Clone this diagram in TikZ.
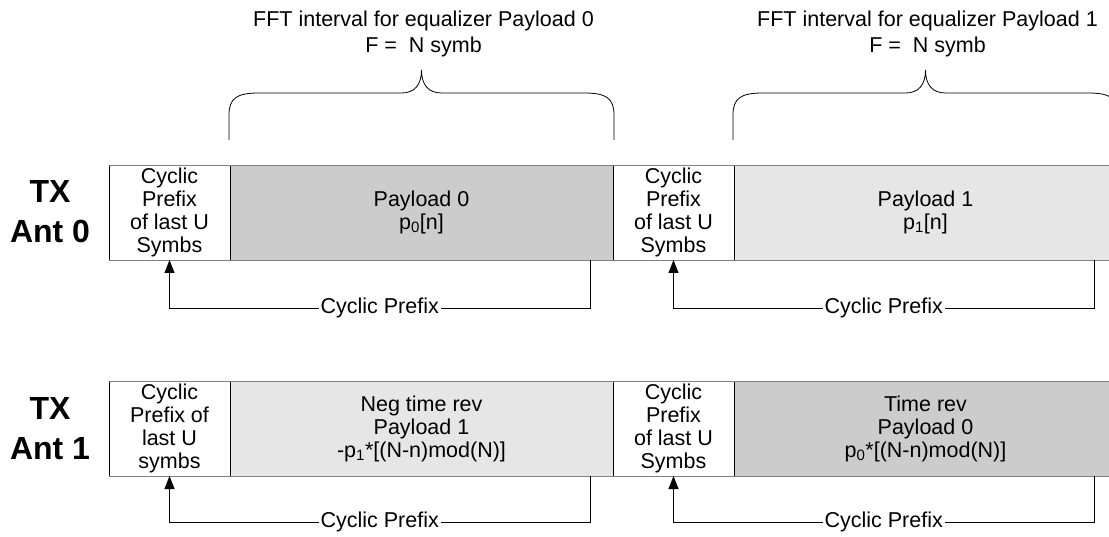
\documentclass[tikz,border=0pt]{standalone}
\usepackage{fontspec}
\setmainfont{Liberation Sans}
\usepackage{tikz}
\usetikzlibrary{arrows.meta,positioning}
\definecolor{plgray}{RGB}{204,204,204}
\definecolor{pllight}{RGB}{230,230,230}
\definecolor{edgegray}{RGB}{128,128,128}
\tikzstyle{blk} = [draw=black, line width=0.8pt, minimum height=95pt, inner sep=0pt, outer sep=0pt, align=center, font=\fontsize{21.5}{23}\selectfont]
\tikzstyle{cpbox} = [blk, fill=white, minimum width=121pt]
\tikzstyle{paybox} = [blk, minimum width=383pt]
\tikzstyle{cparrow} = [line width=0.8pt, -{Triangle[length=13pt,width=10pt]}]
\tikzstyle{cplabel} = [fill=white, inner sep=2pt, font=\fontsize{21.5}{23}\selectfont]

\begin{document}
\begin{tikzpicture}[x=1pt, y=-1pt]
\useasboundingbox (0,0) rectangle (1109,537);

% TX Ant 0
\node[cpbox, anchor=north west] (cpa0) at (109,165) {Cyclic\\Prefix\\of last U\\Symbs};
\node[paybox, fill=plgray, right=0pt of cpa0] (pay0) {Payload 0\\p\textsubscript{0}[n]};
\node[cpbox, right=0pt of pay0] (cpa1) {Cyclic\\Prefix\\of last U\\Symbs};
\node[paybox, fill=pllight, right=0pt of cpa1] (pay1) {Payload 1\\p\textsubscript{1}[n]};
\draw[edgegray, line width=0.8pt] (cpa0.north west) -- (pay1.north east);
\draw[edgegray, line width=0.8pt] (cpa0.south west) -- (pay1.south east);

% TX Ant 1
\node[cpbox, anchor=north west] (cpb0) at (109,381) {Cyclic\\Prefix of\\last U\\symbs};
\node[paybox, fill=pllight, right=0pt of cpb0] (rev1) {Neg time rev\\Payload 1\\-p\textsubscript{1}*[(N-n)mod(N)]};
\node[cpbox, right=0pt of rev1] (cpb1) {Cyclic\\Prefix\\of last U\\Symbs};
\node[paybox, fill=plgray, right=0pt of cpb1] (rev0) {Time rev\\Payload 0\\p\textsubscript{0}*[(N-n)mod(N)]};
\draw[edgegray, line width=0.8pt] (cpb0.north west) -- (rev0.north east);
\draw[edgegray, line width=0.8pt] (cpb0.south west) -- (rev0.south east);

% Antenna labels
\node[align=center, font=\fontsize{32}{40}\selectfont\bfseries] (tx0) at (50,212) {TX\\Ant 0};
\node[align=center, font=\fontsize{32}{40}\selectfont\bfseries] (tx1) at (50,429) {TX\\Ant 1};

% Cyclic prefix loops
\coordinate (ret0) at ([xshift=-23pt]pay0.south east);
\coordinate (ret1) at ([xshift=-23pt]pay1.south east);
\coordinate (ret2) at ([xshift=-23pt]rev1.south east);
\coordinate (ret3) at ([xshift=-23pt]rev0.south east);
\draw[cparrow] (ret0) -- ++(0,48) -| node[cplabel, pos=0.25] {Cyclic Prefix} (cpa0.south);
\draw[cparrow] (ret1) -- ++(0,48) -| node[cplabel, pos=0.25] {Cyclic Prefix} (cpa1.south);
\draw[cparrow] (ret2) -- ++(0,46) -| node[cplabel, pos=0.25] {Cyclic Prefix} (cpb0.south);
\draw[cparrow] (ret3) -- ++(0,46) -| node[cplabel, pos=0.25] {Cyclic Prefix} (cpb1.south);

% FFT intervals
\foreach \l/\r/\k in {229/614/0, 733/1118/1} {
  \pgfmathsetmacro{\m}{(\l+\r)/2}
  \draw[line width=0.8pt] (\l,140) -- (\l,115) .. controls (\l,98) and (\l+8,93) .. (\l+30,93)
    -- (\m-20,93) .. controls (\m-7,93) and (\m,85) .. (\m,70)
    .. controls (\m,85) and (\m+7,93) .. (\m+20,93)
    -- (\r-30,93) .. controls (\r-8,93) and (\r,98) .. (\r,115) -- (\r,140);
  \node[align=center, font=\fontsize{21.5}{26}\selectfont] (fft\k) at (\m+2,34) {FFT interval for equalizer Payload \k\\F = \ N symb};
}
\end{tikzpicture}
\end{document}
